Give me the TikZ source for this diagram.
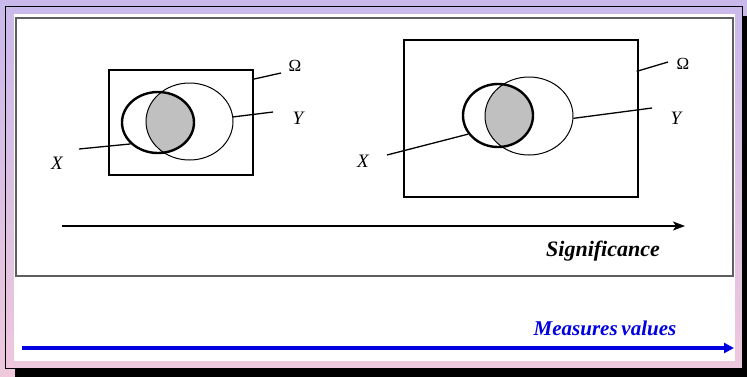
\documentclass[tikz,border=0pt]{standalone}
\usepackage{fontspec}
\setmainfont{Liberation Serif}
\usetikzlibrary{shapes.geometric,arrows.meta,calc}
\definecolor{bgtop}{RGB}{201,185,235}
\definecolor{bgbot}{RGB}{239,200,220}
\definecolor{framegray}{RGB}{95,95,95}
\definecolor{fillgray}{RGB}{192,192,192}
\definecolor{mblue}{RGB}{0,0,225}
\begin{document}
\begin{tikzpicture}[x=1pt,y=-1pt,
  setbox/.style={draw=black,line width=1.3pt,minimum width=#1,inner sep=0pt},
  thinell/.style={ellipse,draw=black,line width=1pt,inner sep=0pt},
  thickell/.style={ellipse,draw=black,line width=2.4pt,inner sep=0pt},
  pointer/.style={draw=black,line width=1.3pt},
  lbl/.style={font=\fontsize{19}{19}\selectfont\itshape,inner sep=0pt},
  omlbl/.style={font=\fontsize{17}{17}\selectfont,inner sep=0pt}]
\useasboundingbox (0,0) rectangle (747,376);
% background gradient
\shade[top color=bgtop,bottom color=bgbot] (0,0) rectangle (747,376);
% drop shadow
\fill[black] (15,16) rectangle (760,390);
% frame
\begin{scope}
\clip (5.5,6) rectangle (742,368);
\shade[top color=bgtop,bottom color=bgbot] (0,0) rectangle (747,376);
\end{scope}
\draw[black,line width=1pt] (5.5,6) rectangle (742,368);
% white panel
\fill[white] (14,14) rectangle (735,361);
% inner box
\node[draw=framegray,line width=1.6pt,minimum width=717pt,minimum height=258pt,inner sep=0pt] (box) at (374.5,147) {};

% ---------- left diagram ----------
\node[setbox=144pt,minimum height=105pt] (r1) at (181,122.5) {};
\begin{scope}
\clip (158,122.5) ellipse [x radius=36pt,y radius=30.5pt];
\fill[fillgray] (189.5,121.5) ellipse [x radius=43.5pt,y radius=38.5pt];
\end{scope}
\node[thinell,minimum width=87pt,minimum height=77pt] (y1) at (189.5,121.5) {};
\node[thickell,minimum width=72pt,minimum height=61pt] (x1) at (158,122.5) {};
\coordinate (o1e) at (281,73);
\coordinate (y1e) at (273,112);
\coordinate (x1e) at (79,149);
\draw[pointer] ($(r1.north east)+(-1,10)$) -- (o1e);
\draw[pointer] (y1.6) -- (y1e);
\draw[pointer] (x1.218) -- (x1e);
\node[omlbl] (om1) at (295,66) {Ω};
\node[lbl] (ly1) at (298,118) {Y};
\node[lbl] (lx1) at (57,163) {X};

% ---------- right diagram ----------
\node[setbox=234pt,minimum height=157pt] (r2) at (521,118.5) {};
\begin{scope}
\clip (498,115.5) ellipse [x radius=35pt,y radius=31.5pt];
\fill[fillgray] (529,116) ellipse [x radius=44pt,y radius=39pt];
\end{scope}
\node[thinell,minimum width=88pt,minimum height=78pt] (y2) at (529,116) {};
\node[thickell,minimum width=70pt,minimum height=63pt] (x2) at (498,115.5) {};
\coordinate (o2e) at (668,62);
\coordinate (y2e) at (652,108);
\coordinate (x2e) at (387,155);
\draw[pointer] ($(r2.north east)+(-2,32)$) -- (o2e);
\draw[pointer] (y2.357) -- (y2e);
\draw[pointer] (x2.212) -- (x2e);
\node[omlbl] (om2) at (683,64) {Ω};
\node[lbl] (ly2) at (676,118) {Y};
\node[lbl] (lx2) at (363,161) {X};

% ---------- significance arrow ----------
\coordinate (s0) at (62,226);
\coordinate (s1) at (685,226);
\draw[black,line width=1.3pt,-{Stealth[length=12pt,width=9pt,inset=3pt]}] (s0) -- (s1);
\node[font=\fontsize{22}{22}\selectfont\bfseries\itshape,inner sep=0pt] (sig) at (603,251) {Significance};

% ---------- measures arrow ----------
\coordinate (m0) at (22,348);
\coordinate (m1) at (734,348);
\draw[mblue,line width=3.2pt,-{Triangle[length=10pt,width=10pt]}] (m0) -- (m1);
\node[text=mblue,font=\fontsize{21}{21}\selectfont\bfseries\itshape,inner sep=0pt] (mv) at (605,328) {Measures\kern-1.5pt\ values};
\end{tikzpicture}
\end{document}
